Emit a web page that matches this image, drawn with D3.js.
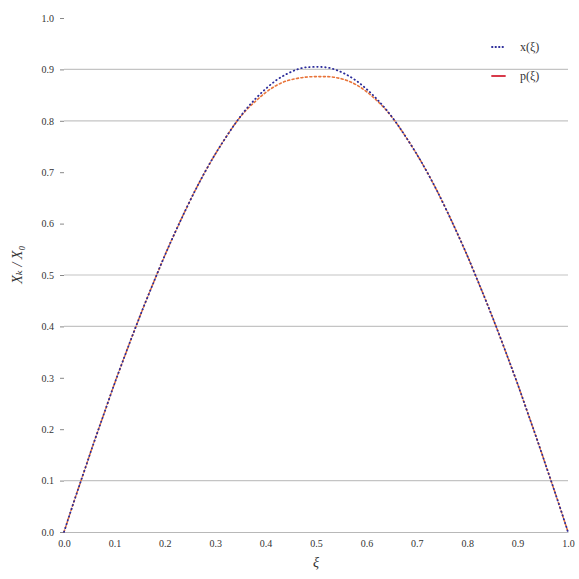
<!DOCTYPE html>
<html>
<head>
<meta charset="utf-8">
<script src="https://cdn.jsdelivr.net/npm/d3@7"></script>
<style>
  html, body { margin: 0; padding: 0; background: #fff; }
  svg text { font-family: "Liberation Serif", "DejaVu Serif", serif; fill: #333; }
</style>
</head>
<body>
<svg id="chart" width="579" height="579"></svg>
<script>
// Sample positions along the normalised coordinate ξ
const xi = [0.00, 0.02, 0.04, 0.06, 0.08, 0.10, 0.12, 0.14, 0.16, 0.18,
            0.20, 0.22, 0.24, 0.26, 0.28, 0.30, 0.32, 0.34, 0.36, 0.38,
            0.40, 0.42, 0.44, 0.46, 0.48, 0.50, 0.52, 0.54, 0.56, 0.58,
            0.60, 0.62, 0.64, 0.66, 0.68, 0.70, 0.72, 0.74, 0.76, 0.78,
            0.80, 0.82, 0.84, 0.86, 0.88, 0.90, 0.92, 0.94, 0.96, 0.98, 1.00];

// x(ξ) profile
const xSeries = [0.000, 0.060, 0.118, 0.176, 0.232, 0.288, 0.341, 0.393, 0.443, 0.491,
                 0.538, 0.582, 0.624, 0.664, 0.701, 0.735, 0.766, 0.795, 0.821, 0.843,
                 0.862, 0.878, 0.890, 0.899, 0.904, 0.905, 0.904, 0.899, 0.890, 0.878,
                 0.862, 0.843, 0.821, 0.795, 0.766, 0.735, 0.701, 0.664, 0.624, 0.582,
                 0.538, 0.491, 0.443, 0.393, 0.341, 0.288, 0.232, 0.176, 0.118, 0.060, 0.000];

// p(ξ) profile, flattened near the crest
const pSeries = [0.000, 0.060, 0.118, 0.176, 0.232, 0.288, 0.341, 0.393, 0.443, 0.491,
                 0.538, 0.582, 0.624, 0.664, 0.701, 0.735, 0.766, 0.795, 0.819, 0.838,
                 0.855, 0.868, 0.877, 0.882, 0.885, 0.886, 0.886, 0.884, 0.879, 0.870,
                 0.857, 0.840, 0.820, 0.795, 0.766, 0.735, 0.701, 0.664, 0.624, 0.582,
                 0.538, 0.491, 0.443, 0.393, 0.341, 0.288, 0.232, 0.176, 0.118, 0.060, 0.000];

const xTicks = [0, 0.1, 0.2, 0.3, 0.4, 0.5, 0.6, 0.7, 0.8, 0.9, 1.0];
const yTicks = [0, 0.1, 0.2, 0.3, 0.4, 0.5, 0.6, 0.7, 0.8, 0.9, 1.0];
const gridValues = [0.1, 0.4, 0.5, 0.8, 0.9];
const legendLabels = ["x(ξ)", "p(ξ)"];

const svg = d3.select("#chart");
const margin = { left: 64, right: 11, top: 18, bottom: 47 };
const W = 579, H = 579;

const x = d3.scaleLinear().domain([0, 1]).range([margin.left, W - margin.right]);
const y = d3.scaleLinear().domain([0, 1]).range([H - margin.bottom, margin.top]);

// horizontal grid
svg.append("g")
  .selectAll("line")
  .data(gridValues)
  .join("line")
  .attr("x1", x(0)).attr("x2", x(1))
  .attr("y1", d => y(d)).attr("y2", d => y(d))
  .attr("stroke", "#c4c4c4").attr("stroke-width", 1.2);

// x axis
const xAxis = svg.append("g")
  .attr("transform", `translate(0,${y(0)})`)
  .call(d3.axisBottom(x).tickValues(xTicks).tickFormat(d3.format(".1f")).tickSize(0).tickPadding(8));
xAxis.select(".domain").attr("stroke", "#b8b8b8").attr("stroke-width", 1.2);
xAxis.selectAll("text").attr("font-size", 10).attr("fill", "#333");

// y axis
const yAxis = svg.append("g")
  .attr("transform", `translate(${x(0)},0)`)
  .call(d3.axisLeft(y).tickValues(yTicks).tickFormat(d3.format(".1f")).tickSize(4).tickPadding(6));
yAxis.select(".domain").remove();
yAxis.selectAll(".tick line").attr("stroke", "#888");
yAxis.selectAll("text").attr("font-size", 10).attr("fill", "#333");

// axis titles
svg.append("text")
  .attr("x", x(0.5)).attr("y", H - 12)
  .attr("text-anchor", "middle").attr("font-size", 14).attr("font-style", "italic")
  .text("ξ");
svg.append("text")
  .attr("transform", `translate(22,${y(0.52)}) rotate(-90)`)
  .attr("text-anchor", "middle").attr("font-size", 14).attr("font-style", "italic")
  .text("Xₖ / X₀");

const line = d3.line().x((d, i) => x(xi[i])).y(d => y(d)).curve(d3.curveMonotoneX);

// p(ξ)
svg.append("path")
  .attr("d", line(pSeries))
  .attr("fill", "none").attr("stroke", "#e8743a").attr("stroke-width", 1.6)
  .attr("stroke-dasharray", "2,2.5").attr("stroke-linecap", "round");

// x(ξ)
svg.append("path")
  .attr("d", line(xSeries))
  .attr("fill", "none").attr("stroke", "#2c2c9a").attr("stroke-width", 1.8)
  .attr("stroke-dasharray", "0.5,3.5").attr("stroke-linecap", "round");

// legend
const legend = svg.append("g");
const legendY = [47, 76];
const legendColors = ["#2c2c9a", "#d83a4a"];
const legendDash = ["0.5,3", null];
legendLabels.forEach((lab, i) => {
  legend.append("line")
    .attr("x1", 492).attr("x2", 505)
    .attr("y1", legendY[i]).attr("y2", legendY[i])
    .attr("stroke", legendColors[i]).attr("stroke-width", 1.8)
    .attr("stroke-linecap", "round")
    .attr("stroke-dasharray", legendDash[i]);
  legend.append("text")
    .attr("x", 520).attr("y", legendY[i] + 4)
    .attr("font-size", 12)
    .text(lab);
});
</script>
</body>
</html>
